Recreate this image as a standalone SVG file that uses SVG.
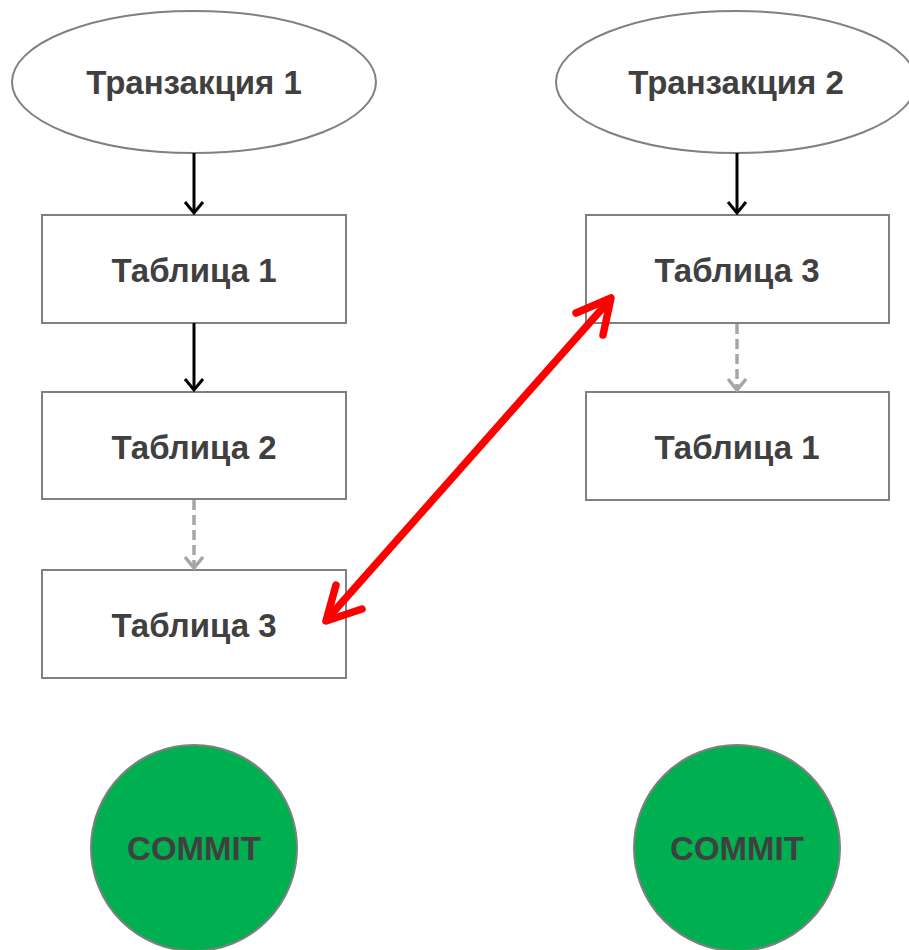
<svg xmlns="http://www.w3.org/2000/svg" width="909" height="950" viewBox="0 0 909 950">
<style>
.shape{fill:#fff;stroke:#808080;stroke-width:2}
.commit{fill:#00b050;stroke:#7f7f7f;stroke-width:2}
.lbl{font-family:"Liberation Sans",Arial,sans-serif;font-weight:bold;font-size:33px;fill:#404040;text-anchor:middle}
.solid{stroke:#000;stroke-width:3;fill:none}
.dash{stroke:#a6a6a6;stroke-width:3.5;fill:none;stroke-dasharray:10 5}
.red{stroke:#ff0000;stroke-width:7.5;fill:none;stroke-linecap:round;stroke-linejoin:round}
</style>
<defs>
<marker id="ahB" markerWidth="16" markerHeight="22" refX="13" refY="11" orient="auto" markerUnits="userSpaceOnUse">
<path d="M2,2 L13,11 L2,20" fill="none" stroke="#000" stroke-width="3"/>
</marker>
<marker id="ahG" markerWidth="16" markerHeight="22" refX="13" refY="11" orient="auto" markerUnits="userSpaceOnUse">
<path d="M2,2 L13,11 L2,20" fill="none" stroke="#a6a6a6" stroke-width="3.5"/>
</marker>
</defs>
<g id="t1"><ellipse class="shape" cx="194" cy="82" rx="182" ry="71"/><text class="lbl" x="194" y="94">Транзакция 1</text></g>
<g id="t2"><ellipse class="shape" cx="736" cy="82" rx="180" ry="71"/><text class="lbl" x="736" y="94">Транзакция 2</text></g>
<g id="l1"><rect class="shape" x="42" y="215" width="304" height="108"/><text class="lbl" x="194" y="282">Таблица 1</text></g>
<g id="l2"><rect class="shape" x="42" y="392" width="304" height="107"/><text class="lbl" x="194" y="459">Таблица 2</text></g>
<g id="l3"><rect class="shape" x="42" y="570" width="304" height="108"/><text class="lbl" x="194" y="637">Таблица 3</text></g>
<g id="r1"><rect class="shape" x="586" y="215" width="303" height="108"/><text class="lbl" x="737" y="282">Таблица 3</text></g>
<g id="r2"><rect class="shape" x="586" y="392" width="303" height="108"/><text class="lbl" x="737" y="459">Таблица 1</text></g>
<g id="c1"><circle class="commit" cx="194" cy="848" r="103"/><text class="lbl" x="194" y="860">COMMIT</text></g>
<g id="c2"><circle class="commit" cx="737" cy="848" r="103"/><text class="lbl" x="737" y="860">COMMIT</text></g>
<g id="connectors">
<line class="solid" x1="194" y1="153" x2="194" y2="213" marker-end="url(#ahB)"/>
<line class="solid" x1="194" y1="323" x2="194" y2="390" marker-end="url(#ahB)"/>
<line class="dash" x1="194" y1="500" x2="194" y2="568" marker-end="url(#ahG)"/>
<line class="solid" x1="737" y1="153" x2="737" y2="213" marker-end="url(#ahB)"/>
<line class="dash" x1="737" y1="324" x2="737" y2="390" marker-end="url(#ahG)"/>
<line class="red" x1="329" y1="617" x2="608" y2="302"/>
<path class="red" d="M336,585 L326,621 L362,609"/>
<path class="red" d="M576,313 L611,298 L603,335"/>
</g>
</svg>
